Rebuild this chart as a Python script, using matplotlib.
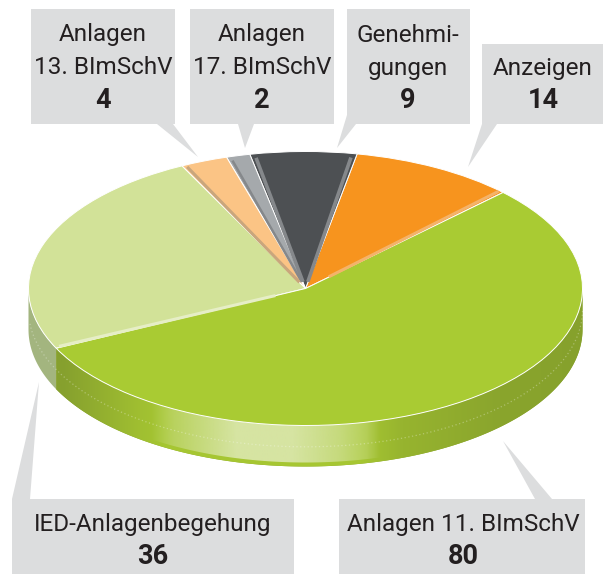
#   Pie chart of inspections, tilted with a side wall and callout boxes   #

import numpy as np
import matplotlib
matplotlib.use("Agg")
import matplotlib.pyplot as plt
from matplotlib.patches import Polygon

##  Data    ##
labels = ['Anzeigen', 'Genehmi-\ngungen', 'Anlagen\n17. BImSchV', 'Anlagen\n13. BImSchV', 'IED-Anlagenbegehung', 'Anlagen 11. BImSchV']
values = [14, 9, 2, 4, 36, 80]
colors = ['#f7941e', '#4d5053', '#a5a9ac', '#fbc485', '#d2e298', '#a9cb33']
wall_colors = ['#c07416', '#3a3c3e', '#808386', '#c89a68', '#a3b57f', '#8ba52c']

##  Layout  ##
START = 44.5
CX, CY, RX, RY, DEPTH = 305.5, 288.5, 277, 137, 41
BOX = '#dcddde'
INK = '#231f20'

plt.rcParams['font.family'] = ['Roboto', 'DejaVu Sans']

fig = plt.figure(figsize=(6.03, 5.74), dpi=100, facecolor='white')

#   Pixel canvas for the boxes  #
bg = fig.add_axes([0, 0, 1, 1])
bg.set_xlim(0, 603)
bg.set_ylim(574, 0)
bg.axis('off')

boxes = [
    # x0, y0, x1, y1, tail polygon, text x, line centres
    (482, 44, 603, 124, [(482, 124), (497, 124), (468, 167)], 543, [68, 100]),
    (347, 9, 470, 124, [(347, 115), (356, 124), (337, 148)], 408, [35, 68, 100]),
    (190, 9, 334, 124, [(238, 124), (254, 124), (245, 148)], 262, [35, 68, 100]),
    (31, 9, 175, 124, [(157, 124), (173, 124), (198, 157)], 103, [35, 68, 100]),
    (12, 499, 294, 574, [(12, 499), (30, 499), (39, 382)], 153, [524, 556]),
    (339, 499, 585, 574, [(535, 499), (552, 499), (503, 441)], 463, [524, 556]),
]
for box, label, value in zip(boxes, labels, values):
    x0, y0, x1, y1, tail, tx, ys = box
    bg.add_patch(plt.Rectangle((x0, y0), x1 - x0, y1 - y0, fc=BOX, ec='none'))
    bg.add_patch(Polygon(tail, fc=BOX, ec='none'))
    for line, y in zip(label.split('\n'), ys):
        bg.text(tx, y, line, ha='center', va='center', fontsize=17.5, color=INK)
    bg.text(tx, ys[-1], str(value), ha='center', va='center', fontsize=19.5, fontweight='bold', color=INK)

#   Pie axes: one unit is RX wide and RY high   #
ax = fig.add_axes([0, 0, 1, 1], facecolor='none')

angles = START + np.concatenate(([0], np.cumsum(values))) * 360.0 / sum(values)
D = DEPTH / RY

#   Side wall, seen only on the front half   #
def wall_polygon(a0, a1, d0=0.0, d1=D):
    t = np.radians(np.linspace(a0, a1, 200))
    x, y = np.cos(t), np.sin(t)
    return np.column_stack((np.r_[x, x[::-1]], np.r_[y - d0, y[::-1] - d1]))

def gradient(xs, stops, channels):
    xx = np.linspace(-1, 1, 500)
    return np.stack([np.interp(xx, xs, [s[i] for s in stops]) for i in range(channels)], axis=-1)[None, :, :]

ax.add_patch(Polygon(wall_polygon(180, angles[5]), fc=wall_colors[4], ec='none'))
wall = Polygon(wall_polygon(angles[5], 360), fc=wall_colors[5], ec='none')
ax.add_patch(wall)

#   Wall shading along x    #
base_x = [-0.88, -0.60, -0.50, 0.20, 0.35, 0.70, 1.0]
base_c = ['#86a02e', '#a0bf31', '#a6c732', '#a6c632', '#97b42f', '#8aa52d', '#86a12c']
base = ax.imshow(gradient(base_x, [matplotlib.colors.to_rgb(c) for c in base_c], 3),
                 extent=(-1, 1, -2, 1), aspect='auto', zorder=2)
base.set_clip_path(wall)

#   Soft highlight band on the front    #
glow_x = [-0.56, -0.48, -0.25, -0.05, 0.12, 0.22, 0.27]
glow_a = [0.0, 0.35, 0.90, 0.90, 0.60, 0.30, 0.0]
glow_c = [matplotlib.colors.to_rgb('#dce8b0') + (a,) for a in glow_a]
band = Polygon(wall_polygon(-135, -60, 0.0, D - 4 / RY), fc='none', ec='none')
ax.add_patch(band)
glow = ax.imshow(gradient(glow_x, glow_c, 4), extent=(-1, 1, -2, 1), aspect='auto', zorder=2.5)
glow.set_clip_path(band)

#   Faint speckle halfway down the wall #
t = np.radians(np.linspace(angles[5] - 360 - 20, 0, 400))
ax.plot(np.cos(t), np.sin(t) - D * 0.52, color='white', lw=0.9, ls=(0, (1, 2)), alpha=0.3, zorder=2.7)

#   Top surface #
wedges, _ = ax.pie(values, colors=colors, startangle=START, radius=1,
                   wedgeprops={'edgecolor': 'white', 'linewidth': 0.7, 'zorder': 3})

#   Bevel strips along the slice edges  #
strips = [
    (angles[0] + 1.0, '#f4b36a', 0.12, 0.995, 2.2),
    (angles[1] + 1.0, '#85888b', 0.05, 0.97, 2.6),
    (angles[2] - 1.0, '#85888b', 0.05, 0.97, 2.6),
    (angles[3] - 0.8, '#85888b', 0.05, 0.97, 1.8),
    (angles[5] - 0.5, '#e6eec6', 0.12, 0.985, 2.2),
    (angles[4] - 0.8, '#c9a67c', 0.05, 0.985, 2.2),
]
for angle, color, r0, r1, width in strips:
    t = np.radians(angle)
    ax.plot([r0 * np.cos(t), r1 * np.cos(t)], [r0 * np.sin(t), r1 * np.sin(t)],
            color=color, lw=width, solid_capstyle='butt', zorder=4)

#   Same pixel mapping as the canvas    #
ax.set_aspect('auto')
ax.set_xlim(-CX / RX, (603 - CX) / RX)
ax.set_ylim((CY - 574) / RY, CY / RY)
ax.axis('off')

fig.savefig('out.png', dpi=100)
